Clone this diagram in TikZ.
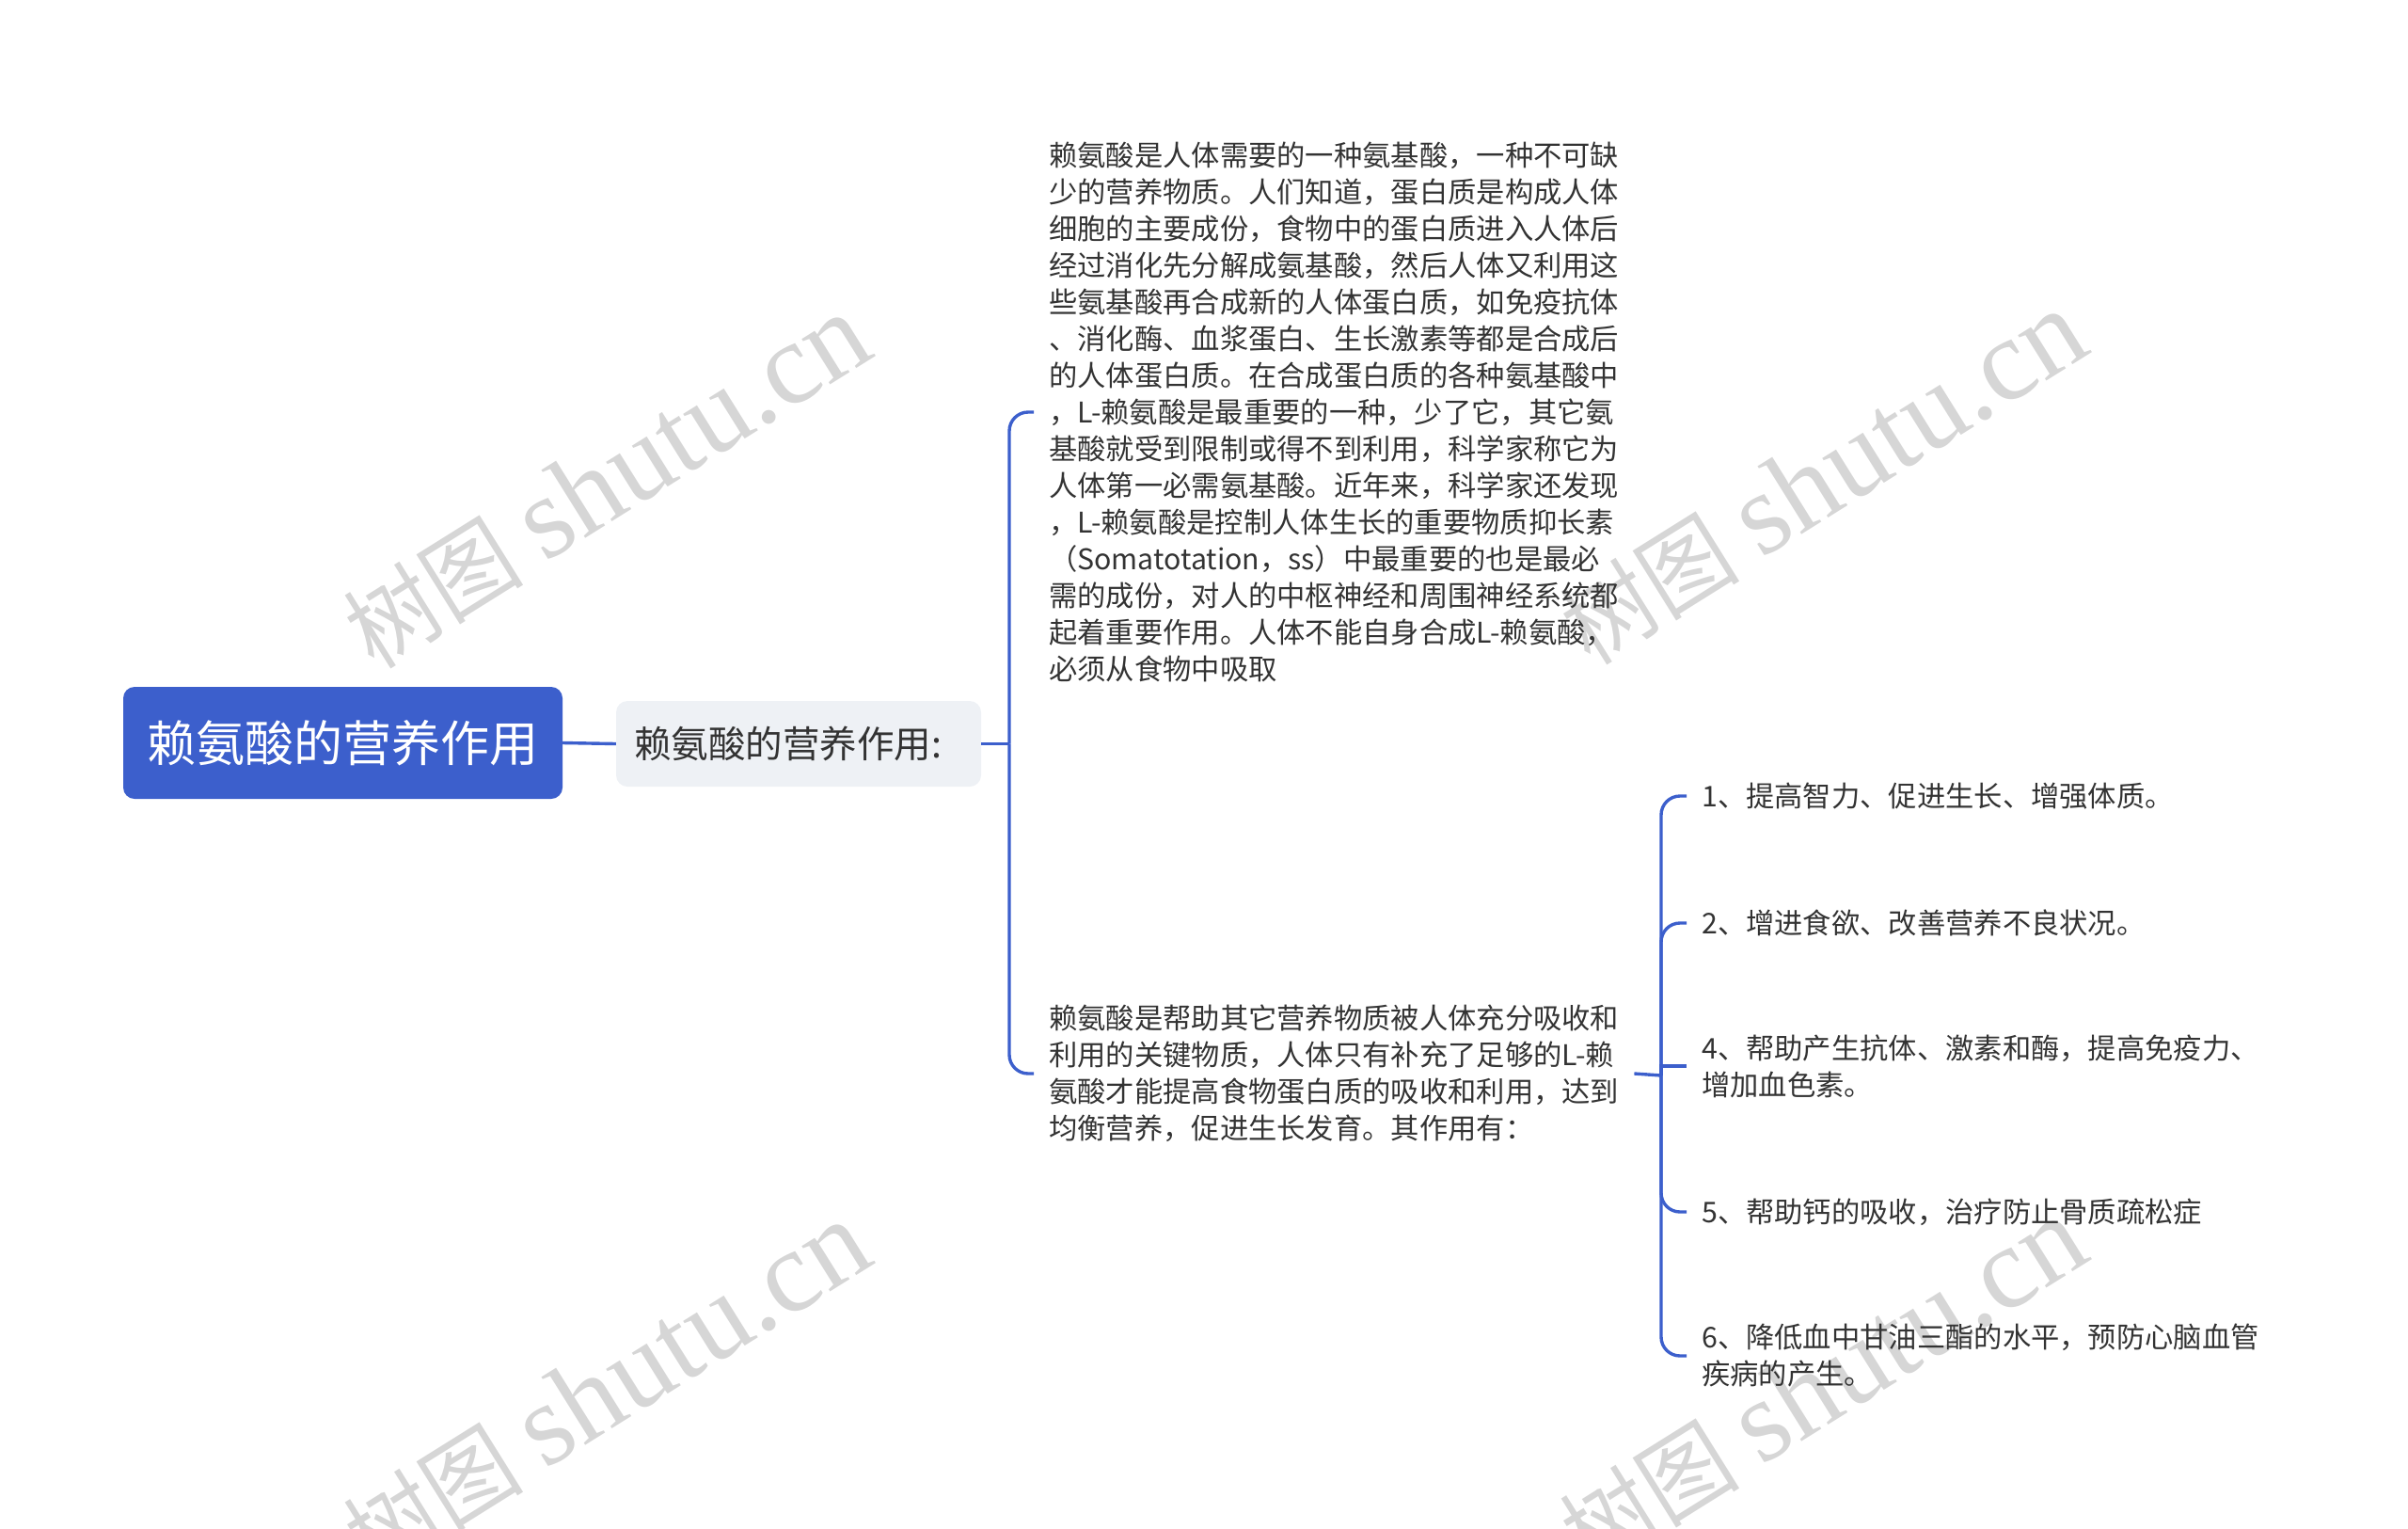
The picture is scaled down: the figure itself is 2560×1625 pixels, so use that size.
\documentclass[tikz,border=0pt]{standalone}
\usepackage{fontspec}
\setmainfont{Noto Sans CJK SC}
\newfontfamily\wmlatin{Liberation Serif}
\newfontfamily\wmcjk{Noto Sans CJK SC}[FakeStretch=0.95]
\definecolor{mainblue}{HTML}{3C5FCC}
\definecolor{subgray}{HTML}{EEF1F5}
\definecolor{txtcol}{HTML}{333333}
\definecolor{wmcol}{HTML}{D6D6D6}
\tikzset{
  rootbox/.style={fill=mainblue, rounded corners=12pt, text=white, minimum width=467pt, minimum height=119pt, inner sep=0pt, font=\fontsize{52}{60}\selectfont},
  subbox/.style={fill=subgray, rounded corners=12pt, text=txtcol, text width=350pt, align=left, inner xsep=19pt, minimum height=91pt, inner ysep=0pt, font=\fontsize{39.5}{46}\selectfont},
  leaf/.style={anchor=west, align=left, text=txtcol, inner xsep=16pt, inner ysep=0pt, font=\fontsize{30.3}{39}\selectfont},
  conn/.style={draw=mainblue, line width=3.4pt},
  wm/.style={text=wmcol, rotate=32, inner sep=0pt}
}
\newcommand{\wmtext}{{\wmcjk\fontsize{100}{110}\selectfont 树图}\hspace{24pt}{\wmlatin\fontsize{124}{130}\selectfont shutu.cn}}
\begin{document}
\begin{tikzpicture}[x=1pt,y=-1pt]
\useasboundingbox (0,0) rectangle (2560,1625);
% watermarks
\node[wm] (w1) at (645,512) {\wmtext};
\node[wm] (w2) at (1938,508) {\wmtext};
\node[wm] (w3) at (645,1476) {\wmtext};
\node[wm] (w4) at (1938,1472) {\wmtext};
% nodes
\node[rootbox] (root) at (364.5,789.5) {赖氨酸的营养作用};
\node[subbox] (sub) at (849,790.5) {赖氨酸的营养作用:};
\node[leaf] (t1) at (1099,438) {赖氨酸是人体需要的一种氨基酸，一种不可缺\\
少的营养物质。人们知道，蛋白质是构成人体\\
细胞的主要成份，食物中的蛋白质进入人体后\\
经过消化先分解成氨基酸，然后人体又利用这\\
些氨基酸再合成新的人体蛋白质，如免疫抗体\\
、消化酶、血浆蛋白、生长激素等都是合成后\\
的人体蛋白质。在合成蛋白质的各种氨基酸中\\
，L-赖氨酸是最重要的一种，少了它，其它氨\\
基酸就受到限制或得不到利用，科学家称它为\\
人体第一必需氨基酸。近年来，科学家还发现\\
，L-赖氨酸是控制人体生长的重要物质抑长素\\
（Somatotation，ss）中最重要的也是最必\\
需的成份，对人的中枢神经和周围神经系统都\\
起着重要作用。人体不能自身合成L-赖氨酸，\\
必须从食物中吸取};
\node[leaf] (t2) at (1099,1141) {赖氨酸是帮助其它营养物质被人体充分吸收和\\
利用的关键物质，人体只有补充了足够的L-赖\\
氨酸才能提高食物蛋白质的吸收和利用，达到\\
均衡营养，促进生长发育。其作用有：};
\node[leaf] (i1) at (1793,846) {1、提高智力、促进生长、增强体质。};
\node[leaf] (i2) at (1793,981) {2、增进食欲、改善营养不良状况。};
\node[leaf] (i4) at (1793,1133) {4、帮助产生抗体、激素和酶，提高免疫力、\\增加血色素。};
\node[leaf] (i5) at (1793,1288) {5、帮助钙的吸收，治疗防止骨质疏松症};
\node[leaf] (i6) at (1793,1441) {6、降低血中甘油三酯的水平，预防心脑血管\\疾病的产生。};
% connectors
\coordinate (j1) at (1073,790.5);
\coordinate (j2) at (1766,1143);
\draw[conn] (root.east) -- (sub.west);
\draw[conn] (sub.east) -- (j1);
\draw[conn, rounded corners=20pt] (j1) |- (t1.west);
\draw[conn, rounded corners=20pt] (j1) |- (t2.west);
\draw[conn] (t2.east) -- (j2);
\draw[conn, rounded corners=20pt] (j2) |- (i1.west);
\draw[conn, rounded corners=20pt] (j2) |- (i2.west);
\draw[conn] (j2) |- (i4.west);
\draw[conn, rounded corners=20pt] (j2) |- (i5.west);
\draw[conn, rounded corners=20pt] (j2) |- (i6.west);
\end{tikzpicture}
\end{document}
